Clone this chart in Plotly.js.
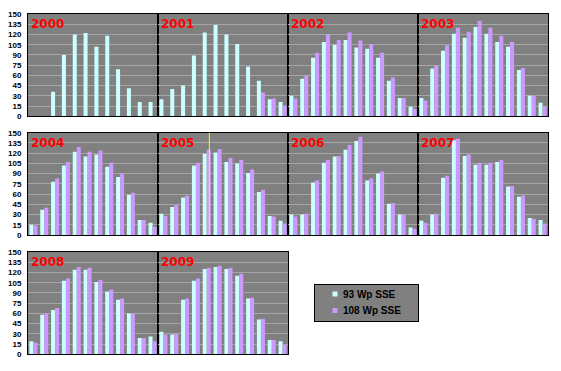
<!DOCTYPE html>
<html>
<head>
<meta charset="utf-8">
<script src="https://cdn.plot.ly/plotly-3.0.1.min.js"></script>
<style>
  html, body { margin: 0; padding: 0; background: #ffffff; }
  #chart { width: 561px; height: 371px; }
</style>
</head>
<body>
<div id="chart"></div>
<script>
// ---- data (monthly yield, kWh) ----
const months = ["Jan","Feb","Mar","Apr","May","Jun","Jul","Aug","Sep","Oct","Nov","Dec"];
const years = ["2000","2001","2002","2003","2004","2005","2006","2007","2008","2009"];
const seriesNames = ["93 Wp SSE", "108 Wp SSE"];
const yTicks = [0, 15, 30, 45, 60, 75, 90, 105, 120, 135, 150];

const wp93_2000 = [null, null, 36, 90, 120, 122, 102, 118, 69, 41, 21, 21];
const wp108_2000 = [null, null, null, null, null, null, null, null, null, null, null, null];
const wp93_2001 = [25, 40, 45, 89, 123, 134, 120, 106, 73, 52, 25, 21];
const wp108_2001 = [null, null, null, null, null, null, null, null, null, 35, 26, 16];
const wp93_2002 = [30, 55, 86, 109, 105, 112, 101, 99, 86, 52, 27, 14];
const wp108_2002 = [26, 60, 93, 120, 112, 123, 111, 106, 93, 57, 27, 11];
const wp93_2003 = [27, 70, 96, 121, 115, 131, 121, 109, 102, 68, 30, 20];
const wp108_2003 = [23, 74, 104, 130, 124, 140, 130, 118, 109, 71, 30, 14];
const wp93_2004 = [15, 37, 78, 102, 122, 115, 118, 100, 85, 59, 22, 18];
const wp108_2004 = [14, 40, 83, 107, 129, 122, 124, 106, 90, 62, 22, 12];
const wp93_2005 = [31, 41, 55, 102, 119, 121, 107, 105, 91, 63, 28, 21];
const wp108_2005 = [28, 44, 58, 106, 125, 126, 113, 110, 96, 66, 27, 17];
const wp93_2006 = [30, 30, 77, 106, 115, 125, 138, 80, 90, 46, 30, 11];
const wp108_2006 = [27, 31, 80, 110, 116, 132, 144, 83, 93, 47, 30, 9];
const wp93_2007 = [21, 30, 84, 139, 116, 103, 103, 107, 71, 56, 25, 22];
const wp108_2007 = [18, 31, 87, 141, 118, 106, 106, 110, 72, 58, 24, 17];
const wp93_2008 = [19, 58, 65, 108, 124, 124, 106, 92, 80, 60, 24, 26];
const wp108_2008 = [17, 60, 68, 111, 128, 127, 109, 95, 82, 60, 24, 19];
const wp93_2009 = [33, 29, 80, 108, 125, 128, 125, 115, 82, 51, 21, 19];
const wp108_2009 = [29, 30, 82, 111, 127, 130, 127, 118, 83, 52, 21, 14];

const wp93 = [wp93_2000, wp93_2001, wp93_2002, wp93_2003, wp93_2004, wp93_2005, wp93_2006, wp93_2007, wp93_2008, wp93_2009];
const wp108 = [wp108_2000, wp108_2001, wp108_2002, wp108_2003, wp108_2004, wp108_2005, wp108_2006, wp108_2007, wp108_2008, wp108_2009];

// ---- styling ----
const W = 561, H = 371;
const colX = [[28, 158], [158, 288], [288, 418], [418, 548]];
const rowY = [[14, 116.3], [132.7, 235], [252, 354.3]];
const colors = ["#CCFFFF", "#CC99FF"];
const tickFont = { family: "Liberation Sans, Arial, sans-serif", size: 8, color: "#000000", weight: "bold" };

const traces = [];
const layout = {
  width: W, height: H,
  margin: { l: 0, r: 0, t: 0, b: 0, pad: 0 },
  paper_bgcolor: "#ffffff",
  plot_bgcolor: "#808080",
  barmode: "group",
  bargap: 0.26,
  bargroupgap: 0,
  showlegend: true,
  legend: {
    x: 314 / W, y: 1 - 284 / H, xanchor: "left", yanchor: "top",
    bgcolor: "#808080", bordercolor: "#000000", borderwidth: 1,
    font: { family: "Liberation Sans, Arial, sans-serif", size: 10, color: "#000000", weight: "bold" },
    itemwidth: 30, tracegroupgap: 0
  },
  annotations: [],
  shapes: []
};

years.forEach((yr, i) => {
  const n = i + 1;
  const sfx = n === 1 ? "" : String(n);
  const col = i % 4, row = Math.floor(i / 4);
  const xa = "xaxis" + sfx, ya = "yaxis" + sfx;
  [wp93[i], wp108[i]].forEach((vals, s) => {
    traces.push({
      type: "bar",
      name: seriesNames[s],
      x: months,
      y: vals,
      xaxis: "x" + sfx,
      yaxis: "y" + sfx,
      marker: { color: colors[s], line: { width: 0 } },
      legendgroup: seriesNames[s],
      showlegend: i === 0,
      hoverinfo: "x+y+name"
    });
  });
  layout[xa] = {
    domain: [colX[col][0] / W, colX[col][1] / W],
    anchor: "y" + sfx,
    type: "category",
    range: [-0.5, 11.5],
    showticklabels: false,
    ticks: "",
    showgrid: false,
    showline: true, mirror: true, linecolor: "#000000", linewidth: 1,
    zeroline: false, fixedrange: true
  };
  layout[ya] = {
    domain: [1 - rowY[row][1] / H, 1 - rowY[row][0] / H],
    anchor: "x" + sfx,
    range: [0, 150],
    tickvals: yTicks,
    ticktext: yTicks.map(String),
    showticklabels: col === 0,
    tickfont: tickFont,
    ticks: "",
    ticklabelstandoff: 4,
    showgrid: true, gridcolor: "#A6A6A6", gridwidth: 1,
    showline: true, mirror: true, linecolor: "#000000", linewidth: 1,
    zeroline: false, fixedrange: true
  };
  layout.annotations.push({
    text: yr,
    xref: "x" + sfx + " domain", yref: "y" + sfx + " domain",
    x: 0, y: 1, xanchor: "left", yanchor: "top",
    xshift: 1, yshift: -1,
    showarrow: false,
    font: { family: "DejaVu Sans, Verdana, sans-serif", size: 12, color: "#FF0000", weight: "bold" }
  });
});

// yellow marker line in the 2005 panel
layout.shapes.push({
  type: "line", xref: "x6", yref: "y6 domain",
  x0: 4.24, x1: 4.24, y0: 0, y1: 1,
  line: { color: "#FFFF00", width: 1 }
});

function parseTranslate(t) {
  const m = /translate\(\s*([-\d.e]+)[ ,]+([-\d.e]+)\s*\)/.exec(t || "");
  return m ? [parseFloat(m[1]), parseFloat(m[2])] : [0, 0];
}

function tidyLegend(gd) {
  const leg = gd.querySelector(".legend");
  if (!leg) return;
  const bg = leg.querySelector("rect.bg");
  if (bg) {
    bg.setAttribute("width", 104);
    bg.setAttribute("height", 37);
  }
  const bgBox = bg.getBoundingClientRect();
  const items = leg.querySelectorAll("g.traces");
  items.forEach((g, k) => {
    // small square swatch
    g.querySelectorAll(".legendpoints path").forEach(p => {
      p.setAttribute("d", "M2.5,2.5H-2.5V-2.5H2.5Z");
    });
    const txt = g.querySelector("text.legendtext");
    if (txt) txt.setAttribute("x", 28);
    const sw = g.querySelector(".legendpoints path");
    if (sw) {
      const r = sw.getBoundingClientRect();
      const cy = (r.top + r.bottom) / 2 - bgBox.top;
      const want = 9.5 + 16.5 * k;
      const [tx, ty] = parseTranslate(g.getAttribute("transform"));
      g.setAttribute("transform", "translate(" + tx + "," + (ty + want - cy) + ")");
    }
  });
}

Plotly.newPlot("chart", traces, layout, { displayModeBar: false, staticPlot: true }).then(gd => {
  tidyLegend(gd);
});
</script>
</body>
</html>
